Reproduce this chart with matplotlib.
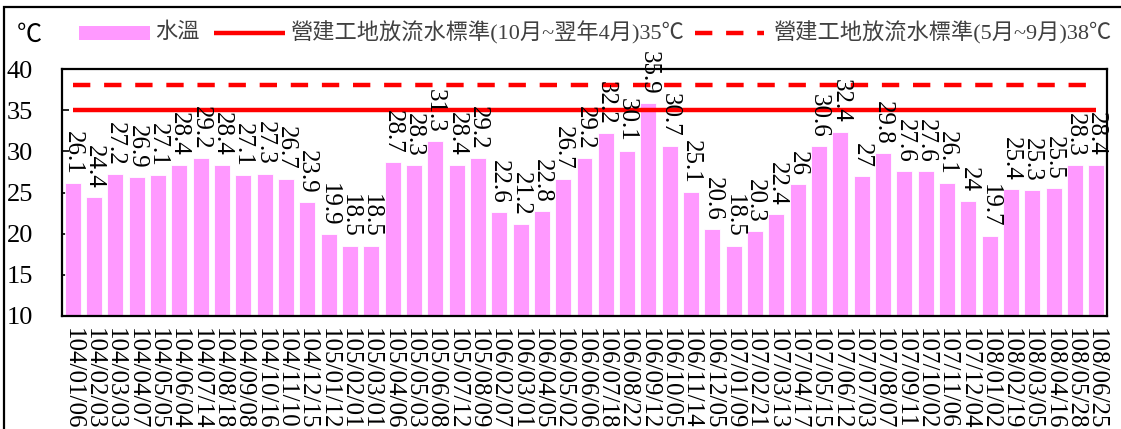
import matplotlib
matplotlib.use("Agg")
import matplotlib.pyplot as plt
from matplotlib.patches import Rectangle
from matplotlib.lines import Line2D

dates = ["104/01/06", "104/02/03", "104/03/03", "104/04/07", "104/05/05", "104/06/04",
         "104/07/14", "104/08/18", "104/09/08", "104/10/16", "104/11/10", "104/12/15",
         "105/01/12", "105/02/01", "105/03/01", "105/04/06", "105/05/03", "105/06/08",
         "105/07/12", "105/08/09", "106/02/07", "106/03/01", "106/04/05", "106/05/02",
         "106/06/06", "106/07/18", "106/08/22", "106/09/12", "106/10/05", "106/11/14",
         "106/12/05", "107/01/09", "107/02/21", "107/03/13", "107/04/17", "107/05/15",
         "107/06/12", "107/07/03", "107/08/07", "107/09/11", "107/10/02", "107/11/06",
         "107/12/04", "108/01/02", "108/02/19", "108/03/05", "108/04/16", "108/05/28",
         "108/06/25"]
water_temp = [26.1, 24.4, 27.2, 26.9, 27.1, 28.4, 29.2, 28.4, 27.1, 27.3, 26.7, 23.9,
              19.9, 18.5, 18.5, 28.7, 28.3, 31.3, 28.4, 29.2, 22.6, 21.2, 22.8, 26.7,
              29.2, 32.2, 30.1, 35.9, 30.7, 25.1, 20.6, 18.5, 20.3, 22.4, 26, 30.6,
              32.4, 27, 29.8, 27.6, 27.6, 26.1, 24, 19.7, 25.4, 25.3, 25.5, 28.3, 28.4]
std_winter = 35
std_summer = 38
series_names = ["水溫", "營建工地放流水標準(10月~翌年4月)35℃", "營建工地放流水標準(5月~9月)38℃"]
y_ticks = [10, 15, 20, 25, 30, 35, 40]

FONT = ["Liberation Serif", "Noto Sans CJK TC", "DejaVu Sans"]
plt.rcParams["font.family"] = FONT

W, H = 1121, 429
fig = plt.figure(figsize=(W / 100, H / 100), dpi=100)

def fx(px):
    return px / W

def fy(py):
    return 1 - py / H

ax = fig.add_axes([fx(62), fy(316), fx(1107) - fx(62), fy(69) - fy(316)])

x = list(range(len(dates)))
bar_color = "#FF99FF"
ax.bar(x, water_temp, width=0.75, color=bar_color, edgecolor="white", linewidth=0.6, zorder=2)

n = len(dates)
ax.plot([0, n - 1], [std_winter, std_winter], color="#FF0000", lw=3.2, zorder=3,
        solid_capstyle="butt")
ax.plot([0, n - 1], [std_summer, std_summer], color="#FF0000", lw=3.2, zorder=3,
        linestyle=(0, (3.9, 3.1)), dash_capstyle="butt")

for xi, v in zip(x, water_temp):
    ax.annotate(f"{v:g}", (xi, v), xytext=(0, 6), textcoords="offset points",
                rotation=270, ha="center", va="bottom", fontsize=18, color="black",
                zorder=4)

ax.set_xlim(-0.5, n - 0.5)
ax.set_ylim(10, 40)
ax.set_yticks(y_ticks)
ax.set_yticklabels([str(t) for t in y_ticks], fontsize=19)
ax.set_xticks(x)
ax.set_xticklabels(dates, rotation=270, fontsize=18, ha="center", va="top")
ax.tick_params(axis="y", direction="in", length=5, width=1.2, pad=21, left=True, right=False)
ax.tick_params(axis="x", length=0, pad=9)
for s in ax.spines.values():
    s.set_linewidth(1.6)
    s.set_color("black")

# unit label
fig.text(fx(17), fy(36), "℃", fontsize=18, ha="left", va="center", color="black")

# legend drawn manually
ly = 33
fig.patches.append(Rectangle((fx(79), fy(40)), fx(150) - fx(79), fy(26) - fy(40),
                             transform=fig.transFigure, facecolor=bar_color, edgecolor="none"))
fig.text(fx(155), fy(ly), series_names[0], fontsize=16, ha="left", va="center", color="#404040")
fig.lines.append(Line2D([fx(214), fx(285)], [fy(ly), fy(ly)], transform=fig.transFigure,
                        color="#FF0000", lw=3.2, solid_capstyle="butt"))
fig.text(fx(291), fy(ly), series_names[1], fontsize=16, ha="left", va="center", color="#404040")
fig.lines.append(Line2D([fx(695), fx(764)], [fy(ly), fy(ly)], transform=fig.transFigure,
                        color="#FF0000", lw=3.2, linestyle=(0, (3.9, 3.1)), dash_capstyle="butt"))
fig.text(fx(774), fy(ly), series_names[2], fontsize=16, ha="left", va="center", color="#404040")

# outer chart border (right and bottom fall outside the image)
fig.patches.append(Rectangle((fx(4), fy(H + 20)), fx(W + 20) - fx(4), fy(6.5) - fy(H + 20),
                             transform=fig.transFigure, facecolor="none", edgecolor="black",
                             lw=1.6, clip_on=False))

fig.savefig("out.png", dpi=100)
